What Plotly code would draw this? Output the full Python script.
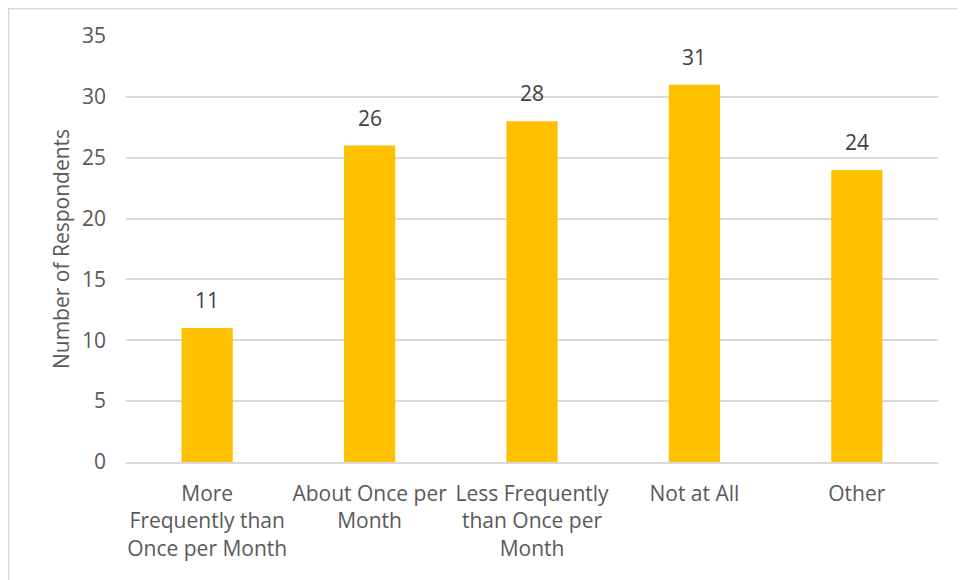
import plotly.graph_objects as go

categories = ["More<br>Frequently than<br>Once per Month",
              "About Once per<br>Month",
              "Less Frequently<br>than Once per<br>Month",
              "Not at All",
              "Other"]
values = [11, 26, 28, 31, 24]
y_ticks = [0, 5, 10, 15, 20, 25, 30, 35]

FONT = "Open Sans"
fig = go.Figure()
fig.add_trace(go.Bar(x=categories, y=values, marker=dict(color="#FFC000", line=dict(width=0)),
                     width=0.315, hoverinfo="skip"))

for c, v in zip(categories, values):
    fig.add_annotation(x=c, y=v, text=str(v), showarrow=False, yanchor="bottom",
                       yshift=12, font=dict(family=FONT, size=21, color="#404040"))

# page body has an 8px margin; figure is sized to fit the 965x580 window
W, H = 957, 572
L, R, T, B = 118, 27, 28, 118
pw, ph = W - L - R, H - T - B
fig.add_shape(type="rect", xref="paper", yref="paper",
              x0=(0.75 - L) / pw, x1=(W + 10 - L) / pw,
              y0=-(B + 10) / ph, y1=(H - B - 0.75) / ph,
              line=dict(color="#D9D9D9", width=1.5), fillcolor="rgba(0,0,0,0)", layer="below")

fig.update_layout(
    width=W, height=H,
    margin=dict(l=L, r=R, t=T, b=B, autoexpand=False),
    paper_bgcolor="white", plot_bgcolor="white",
    showlegend=False,
    font=dict(family=FONT, size=21, color="#595959"),
    xaxis=dict(showgrid=False, showline=True, linecolor="#D9D9D9", linewidth=1.5,
               ticks="", tickfont=dict(size=21, color="#595959"), automargin=False,
               ticklabelstandoff=12),
    yaxis=dict(range=[0, 35], tickvals=y_ticks, showgrid=True, gridcolor="#D9D9D9",
               gridwidth=1.5, zeroline=False, showline=False, ticks="",
               ticklabelstandoff=19, automargin=False,
               tickfont=dict(size=21, color="#595959"),
               title=dict(text="Number of Respondents", standoff=6,
                          font=dict(size=21, color="#595959"))),
)
fig.write_html("out.html")
